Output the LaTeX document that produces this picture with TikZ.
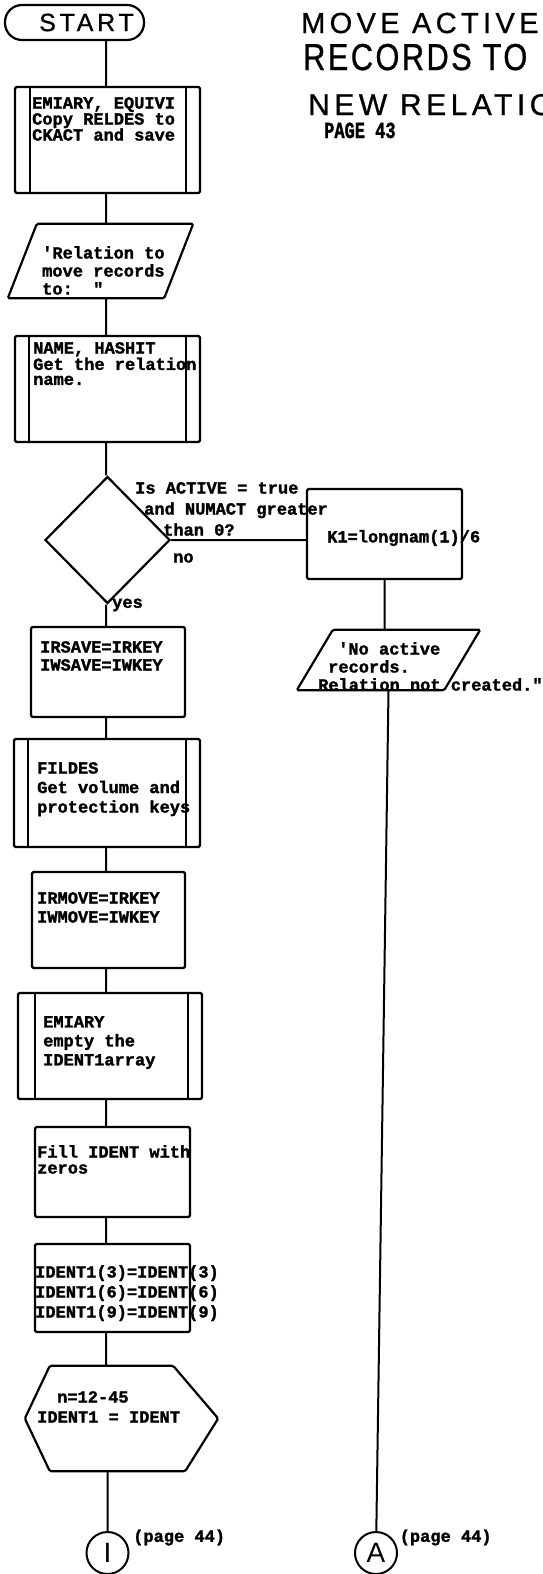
\documentclass[tikz,border=0pt]{standalone}
\usepackage{fontspec}
\usepackage{graphicx}
\usetikzlibrary{shapes.geometric}
\newfontfamily\prtfont{Liberation Mono}[BoldFeatures={FakeBold=1.6}]
\newfontfamily\lsfont{Liberation Sans}
\newfontfamily\hdfont{Liberation Sans}[LetterSpace=15,FakeBold=0.8]
\newfontfamily\hdnarrow{Liberation Sans}[LetterSpace=8,FakeBold=0.8]
\newcommand{\ioframe}[2]{\draw[shp] ([xshift=#2]#1.north west) -- (#1.north east)
  -- ([xshift=-#2]#1.south east) -- (#1.south west) -- cycle;}

\tikzset{
  shp/.style={draw, line width=2.2pt, inner sep=0pt, rounded corners=1.5pt},
  procbox/.style={shp, rectangle},
  subbox/.style={procbox, path picture={
      \draw[line width=2.2pt]
        ([xshift=#1]path picture bounding box.north west) -- ([xshift=#1]path picture bounding box.south west)
        ([xshift=-14pt]path picture bounding box.north east) -- ([xshift=-14pt]path picture bounding box.south east);}},
  subbox/.default=14pt,
  term/.style={shp, rectangle, rounded corners=17pt, font=\hdfont\fontsize{25}{27}\selectfont},
  iobox/.style={rectangle, inner sep=0pt},
  conn/.style={shp, circle, minimum size=42pt, line width=2pt, font=\lsfont\fontsize{28}{30}\selectfont},
  txt/.style={font=\prtfont\bfseries\fontsize{17}{#1}\selectfont, align=left, inner sep=0pt, anchor=north west},
  txt/.default=19,
  ttl/.style={inner sep=0pt, anchor=base west},
  flow/.style={draw, line width=2pt}
}

\begin{document}
\begin{tikzpicture}[x=1pt,y=-1pt]
    \useasboundingbox (0,0) rectangle (543,1574);
    \coordinate (spine) at (106,0);

    \node[term, minimum width=139pt, minimum height=35pt] (start) at (74.5,22.5) {\hspace*{24pt}START};
    \node[subbox=15pt, minimum width=185pt, minimum height=106pt] (cpy) at (107.5,140) {};
    \node[iobox, minimum width=185pt, minimum height=74pt] (ask) at (100.5,261) {};
    \ioframe{ask}{29pt}
    \node[subbox, minimum width=185pt, minimum height=106pt] (nam) at (107.5,389) {};
    \node[shp, diamond, rounded corners=0pt, minimum width=125pt, minimum height=127pt] (test) at (107.5,540) {};
    \node[procbox, minimum width=155pt, minimum height=90pt] (klen) at (384.5,534) {};
    \node[iobox, minimum width=183pt, minimum height=60pt] (noact) at (388.5,660) {};
    \ioframe{noact}{36pt}
    \node[procbox, minimum width=154pt, minimum height=90pt] (isave) at (108,672) {};
    \node[subbox, minimum width=186pt, minimum height=108pt] (fdes) at (107,793) {};
    \node[procbox, minimum width=153pt, minimum height=96pt] (imove) at (108.5,920) {};
    \node[subbox=17pt, minimum width=184pt, minimum height=106pt] (empt) at (110,1046) {};
    \node[procbox, minimum width=155pt, minimum height=90pt] (zero) at (112.5,1172) {};
    \node[procbox, minimum width=155pt, minimum height=88pt] (idcpy) at (112.5,1288) {};
    \node[iobox, minimum width=193pt, minimum height=105pt] (doloop) at (121.5,1418.5) {};
    \draw[shp] ([xshift=25pt]doloop.north west) -- ([xshift=-45pt]doloop.north east) -- (doloop.east)
      -- ([xshift=-33pt]doloop.south east) -- ([xshift=25pt]doloop.south west) -- (doloop.west) -- cycle;
    \node[conn] (con1) at (107.5,1553) {I};
    \node[conn] (conA) at (376,1553) {A};

    \node[ttl, font=\hdfont\fontsize{29}{31}\selectfont] (head1) at (301,33) {MOVE ACTIVE};
    \node[ttl, font=\hdnarrow\fontsize{37.5}{40}\selectfont] (head2) at (303,70) {\scalebox{0.82}[1]{RECORDS TO}};
    \node[ttl, font=\hdfont\fontsize{30}{32}\selectfont] (head3) at (308,115) {NEW RELATION};
    \node[ttl, font=\prtfont\bfseries\fontsize{17}{19}\selectfont] (pagenr) at (324,138) {\scalebox{1}[1.35]{PAGE 43}};

    \node[txt=16] (cpy-t) at (32,97) {EMIARY, EQUIVI\\Copy RELDES to\\CKACT and save};
    \node[txt=18] (ask-t) at (42,246) {'Relation to\\move records\\to:~~"};
    \node[txt=15] (nam-t) at (33,342) {NAME, HASHIT\\Get the relation\\name.};
    \node[txt=21] (test-t) at (135,482) {Is ACTIVE = true\\\hspace*{9pt}and NUMACT greater\\\hspace*{28pt}than 0?};
    \node[txt, anchor=west] (no) at (173,558) {no};
    \node[txt, anchor=west] (yes) at (112,605) {yes};
    \node[txt, anchor=west] (klen-t) at (327,538) {K1=longnam(1)/6};
    \node[txt=18] (noact-t) at (318,642) {\hspace*{20pt}'No active\\\hspace*{10pt}records.\\Relation not created."};
    \node[txt=18] (isave-t) at (40,641) {IRSAVE=IRKEY\\IWSAVE=IWKEY};
    \node[txt=19.5] (fdes-t) at (37,762) {FILDES\\Get volume and\\protection keys};
    \node[txt=19] (imove-t) at (37,892) {IRMOVE=IRKEY\\IWMOVE=IWKEY};
    \node[txt=19] (empt-t) at (43,1016) {EMIARY\\empty the\\IDENT1array};
    \node[txt=16] (zero-t) at (37,1145) {Fill IDENT with\\zeros};
    \node[txt=20] (idcpy-t) at (35,1265) {IDENT1(3)=IDENT(3)\\IDENT1(6)=IDENT(6)\\IDENT1(9)=IDENT(9)};
    \node[txt=20] (doloop-t) at (37,1391) {\hspace*{20pt}n=12-45\\IDENT1 = IDENT};
    \node[txt, anchor=west] (pg1) at ([xshift=10pt]con1.north east) {(page 44)};
    \node[txt, anchor=west] (pgA) at ([xshift=8pt]conA.north east) {(page 44)};

    \draw[flow]
      (start.south -| spine) -- (cpy.north -| spine)
      (cpy.south -| spine) -- (ask.north -| spine)
      (ask.south -| spine) -- (nam.north -| spine)
      (nam.south -| spine) -- (test.north -| spine)
      (test.south -| spine) -- (isave.north -| spine)
      (isave.south -| spine) -- (fdes.north -| spine)
      (fdes.south -| spine) -- (imove.north -| spine)
      (imove.south -| spine) -- (empt.north -| spine)
      (empt.south -| spine) -- (zero.north -| spine)
      (zero.south -| spine) -- (idcpy.north -| spine)
      (idcpy.south -| spine) -- (doloop.north -| spine)
      (doloop.south -| con1) -- (con1)
      (test.east) -- (test.east -| klen.west)
      (klen.south) -- (klen.south |- noact.north)
      (noact.south) -- (conA);
  \end{tikzpicture}
\end{document}
